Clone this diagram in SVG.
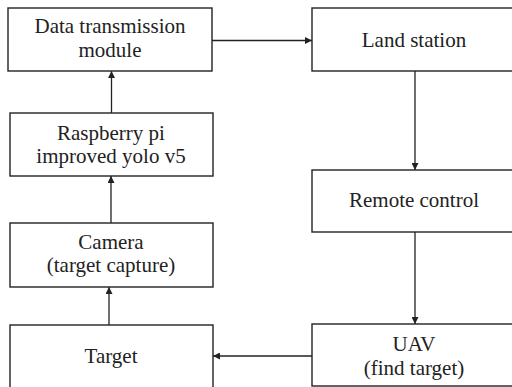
<svg xmlns="http://www.w3.org/2000/svg" width="512" height="387" viewBox="0 0 512 387">
<style>
.box{fill:#fff;stroke:#222;stroke-width:1.4}
.t{font-size:21px;fill:#222;text-anchor:middle}
.c{stroke:#222;stroke-width:1.3;fill:none;marker-end:url(#ah)}
</style>
<defs>
<marker id="ah" viewBox="0 0 10 10" refX="10" refY="5" markerWidth="7" markerHeight="7" markerUnits="userSpaceOnUse" orient="auto">
<path d="M0,0 L10,5 L0,10 z" fill="#222"/>
</marker>
</defs>
<rect width="512" height="387" fill="#fff"/>
<g id="connectors">
<path class="c" d="M212,40.5 H312"/>
<path class="c" d="M415,71 V170"/>
<path class="c" d="M415,232 V324"/>
<path class="c" d="M312,356 H213"/>
<path class="c" d="M109,325 V287"/>
<path class="c" d="M111,223 V176"/>
<path class="c" d="M111.5,113 V71"/>
</g>
<g font-family="Liberation Serif, Times New Roman, serif">
<g id="data">
<rect class="box" x="8" y="8" width="204" height="63"/>
<text class="t" x="110" y="33">Data transmission</text>
<text class="t" x="110" y="57">module</text>
</g>
<g id="land">
<rect class="box" x="312" y="8" width="205" height="63"/>
<text class="t" x="414" y="47">Land station</text>
</g>
<g id="raspberry">
<rect class="box" x="10" y="113" width="203" height="63"/>
<text class="t" x="111" y="140">Raspberry pi</text>
<text class="t" x="111" y="163">improved yolo v5</text>
</g>
<g id="remote">
<rect class="box" x="312" y="170" width="205" height="62"/>
<text class="t" x="414" y="207">Remote control</text>
</g>
<g id="camera">
<rect class="box" x="10" y="223" width="203" height="64"/>
<text class="t" x="111" y="249">Camera</text>
<text class="t" x="111" y="272">(target capture)</text>
</g>
<g id="uav">
<rect class="box" x="312" y="324" width="205" height="62"/>
<text class="t" x="414" y="351">UAV</text>
<text class="t" x="414" y="375">(find target)</text>
</g>
<g id="target">
<rect class="box" x="10" y="325" width="203" height="70"/>
<text class="t" x="111" y="363">Target</text>
</g>
</g>
</svg>
